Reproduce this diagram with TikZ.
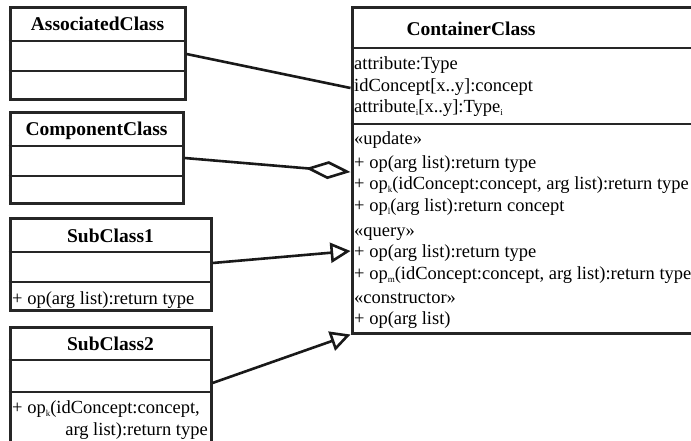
\documentclass[tikz,border=0pt]{standalone}
\usepackage{fontspec}
\setmainfont{Liberation Serif}
\usetikzlibrary{arrows.meta}
\newcommand\sbs[1]{\raisebox{-0.45ex}{\fontsize{9}{9}\selectfont #1}}
\tikzset{
  classbox/.style={draw=black!85, line width=3pt, rectangle, inner sep=0pt},
  sep/.style={draw=black!85, line width=2.6pt},
  conn/.style={draw=black!90, line width=2.6pt},
  ttl/.style={font=\fontsize{19.5}{22}\selectfont\bfseries, anchor=base, inner sep=0pt},
  txt/.style={font=\fontsize{18.5}{21.5}\selectfont, anchor=base west, inner sep=0pt},
  txtr/.style={font=\fontsize{18.5}{21.5}\selectfont, anchor=base east, inner sep=0pt},
}
\begin{document}
\begin{tikzpicture}[x=1pt,y=-1pt]
\useasboundingbox (0,0) rectangle (691,440);
\clip (0,0) rectangle (691,440);
% class boxes
\node[classbox, minimum width=175pt, minimum height=92pt] (assoc) at (97.5,53) {};
\node[classbox, minimum width=173pt, minimum height=91pt] (comp) at (96.5,157.5) {};
\node[classbox, minimum width=201pt, minimum height=92pt] (sub1) at (110.5,264) {};
\node[classbox, minimum width=201pt, minimum height=121pt] (sub2) at (110.5,387.5) {};
\node[classbox, minimum width=368pt, minimum height=326pt] (cont) at (536,170) {};
% separators
\draw[sep] (assoc.west |- 0,41) -- (assoc.east |- 0,41);
\draw[sep] (assoc.west |- 0,71) -- (assoc.east |- 0,71);
\draw[sep] (comp.west |- 0,146) -- (comp.east |- 0,146);
\draw[sep] (comp.west |- 0,176) -- (comp.east |- 0,176);
\draw[sep] (sub1.west |- 0,252) -- (sub1.east |- 0,252);
\draw[sep] (sub1.west |- 0,282) -- (sub1.east |- 0,282);
\draw[sep] (sub2.west |- 0,360) -- (sub2.east |- 0,360);
\draw[sep] (sub2.west |- 0,392) -- (sub2.east |- 0,392);
\draw[sep] (cont.west |- 0,48) -- (cont.east |- 0,48);
\draw[sep] (cont.west |- 0,124) -- (cont.east |- 0,124);
% titles
\node[ttl] (t1) at (97.5,30) {AssociatedClass};
\node[ttl] (t2) at (96.5,135) {ComponentClass};
\node[ttl] (t3) at (110.5,242) {SubClass1};
\node[ttl] (t4) at (110.5,350) {SubClass2};
\node[ttl] (t5) at (471,35) {ContainerClass};
% left texts
\node[txt] (s1a) at (12,304) {+ op(arg list):return type};
\node[txt] (s2a) at (12,413) {+ op\sbs{k}(idConcept:concept,};
\node[txtr] (s2b) at (208,435) {arg list):return type};
% container texts
\node[txt] (c1) at (354,69) {attribute:Type};
\node[txt] (c2) at (354,91) {idConcept[x..y]:concept};
\node[txt] (c3) at (354,112) {attribute\sbs{i}[x..y]:Type\sbs{i}};
\node[txt] (c4) at (354,144) {«update»};
\node[txt] (c5) at (354,168) {+ op(arg list):return type};
\node[txt] (c6) at (354,189) {+ op\sbs{k}(idConcept:concept, arg list):return type};
\node[txt] (c7) at (354,211) {+ op\sbs{l}(arg list):return concept};
\node[txt] (c8) at (354,236) {«query»};
\node[txt] (c9) at (354,257) {+ op(arg list):return type};
\node[txt] (c10) at (354,279) {+ op\sbs{m}(idConcept:concept, arg list):return type};
\node[txt] (c11) at (354,303) {«constructor»};
\node[txt] (c12) at (354,324) {+ op(arg list)};
% connector ends
\coordinate (a0) at (assoc.east |- 0,54);
\coordinate (a1) at (cont.west |- 0,88);
\coordinate (b0) at (comp.east |- 0,158);
\coordinate (b1) at (cont.west |- 0,172);
\coordinate (d0) at (sub1.east |- 0,263);
\coordinate (d1) at (cont.west |- 0,251);
\coordinate (e0) at (sub2.east |- 0,383);
\coordinate (e1) at (cont.south west);
\draw[conn] (a0) -- (a1);
\draw[conn, -{Diamond[open, length=45pt, width=18pt, line width=2.6pt]}] (b0) -- (b1);
\draw[conn, -{Triangle[open, length=20pt, width=20pt, line width=2.6pt]}] (d0) -- (d1);
\draw[conn, -{Triangle[open, length=20pt, width=20pt, line width=2.6pt]}] (e0) -- (e1);
\end{tikzpicture}
\end{document}
